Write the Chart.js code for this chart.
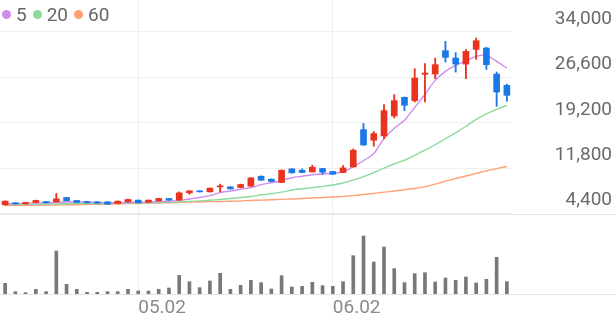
<!DOCTYPE html>
<html>
<head>
<meta charset="utf-8">
<script src="https://cdn.jsdelivr.net/npm/chart.js@4"></script>
<style>
    body { margin: 0; background: #fff; }
    #wrap { position: relative; width: 616px; height: 321px; }
    #legend { position: absolute; top: 3px; left: 2px; font: 19px Roboto, sans-serif; color: #666; display: flex; align-items: center; }
    #legend span.dot { display: inline-block; width: 9px; height: 9px; border-radius: 50%; margin: 0 5px 0 0; }
    #legend span.txt { margin-right: 6px; }
</style>
</head>
<body>
<div id="wrap">
    <canvas id="candle"></canvas>
    <div id="legend"></div>
</div>
<script>
const dates = ['04.14', '04.15', '04.16', '04.17', '04.18', '04.21', '04.22', '04.23', '04.24', '04.25',
    '04.28', '04.29', '04.30', '05.02', '05.07', '05.08', '05.09', '05.12', '05.13', '05.14',
    '05.15', '05.16', '05.19', '05.20', '05.21', '05.22', '05.23', '05.26', '05.27', '05.28',
    '05.29', '05.30', '06.02', '06.04', '06.05', '06.09', '06.10', '06.11', '06.12', '06.13',
    '06.16', '06.17', '06.18', '06.19', '06.20', '06.23', '06.24', '06.25', '06.26', '06.27'];
const shownDates = ['05.02', '06.02'];
const priceTicks = [4400, 11800, 19200, 26600, 34000];

const open = [5830, 6160, 5990, 6220, 6380, 6320, 7030, 6550, 6380, 6320,
    6320, 6060, 6320, 6600, 6270, 6480, 6870, 6600, 7780, 8110,
    7950, 8760, 8760, 8660, 8870, 10500, 10010, 9470, 11690, 11470,
    11200, 11750, 11260, 11100, 12010, 18090, 16350, 17050, 20310, 23350,
    22810, 27090, 27140, 30940, 29740, 28760, 31150, 31370, 27140, 25300];
const high = [6480, 6200, 6250, 6600, 6400, 7690, 7060, 6580, 6400, 6350,
    6350, 6480, 6760, 6630, 6630, 6920, 6900, 7950, 8150, 8150,
    8600, 9200, 8800, 9200, 10280, 10550, 10060, 11520, 11720, 11690,
    12290, 11800, 11300, 12240, 14940, 19070, 17770, 22160, 23790, 23400,
    28010, 28830, 29740, 32460, 30620, 31150, 32990, 31500, 27460, 25500];
const low = [5780, 5960, 5970, 6200, 6140, 6300, 6460, 6200, 6140, 6080,
    5900, 6040, 6300, 6140, 6250, 6450, 6580, 6580, 7570, 7920,
    7920, 7950, 8400, 8620, 8840, 9820, 9600, 9440, 11000, 11060,
    11160, 10820, 10780, 11060, 11980, 15490, 15380, 16630, 19980, 21180,
    22580, 22580, 26390, 29090, 27460, 26390, 29530, 27900, 21880, 22700];
const close = [6430, 5990, 6220, 6550, 6160, 6810, 6480, 6220, 6160, 6100,
    5940, 6430, 6710, 6160, 6600, 6870, 6600, 7780, 8110, 7950,
    8550, 8920, 8430, 9150, 10220, 9850, 9640, 11470, 11040, 11100,
    11960, 11150, 10820, 11850, 14730, 15590, 17440, 21180, 22810, 22050,
    26490, 27300, 28670, 29850, 28760, 30830, 32570, 28670, 24210, 23670];
const volume = [640, 140, 80, 280, 140, 2580, 580, 280, 100, 100,
    140, 140, 280, 180, 180, 280, 360, 1120, 740, 380,
    780, 1240, 280, 520, 820, 680, 300, 1100, 420, 460,
    700, 500, 460, 740, 2300, 3480, 1920, 2820, 1520, 680,
    1220, 1280, 720, 960, 820, 1020, 660, 880, 2200, 740];

const ma5 = [6030, 6060, 6080, 6140, 6170, 6240, 6300, 6300, 6290, 6240,
    6170, 6170, 6220, 6270, 6300, 6380, 6430, 6560, 6790, 7030,
    7330, 7820, 8090, 8380, 8630, 9120, 9440, 9800, 10250, 10500,
    10740, 10860, 10990, 11230, 12040, 13020, 14190, 16600, 18310, 19610,
    21720, 23840, 26110, 27580, 28550, 29280, 30020, 30180, 29200, 28110];
const ma20 = [5910, 5930, 5950, 5960, 5980, 5990, 6010, 6030, 6040, 6060,
    6080, 6090, 6110, 6140, 6170, 6210, 6250, 6320, 6400, 6480,
    6580, 6710, 6870, 7030, 7200, 7470, 7670, 7900, 8250, 8450,
    8630, 8840, 9070, 9390, 9850, 10420, 11070, 11800, 12530, 13100,
    13910, 14730, 15620, 16600, 17570, 18630, 19770, 20660, 21400, 22050];
const ma60 = [5730, 5750, 5770, 5780, 5800, 5810, 5850, 5860, 5900, 5910,
    5950, 5980, 6030, 6060, 6090, 6140, 6170, 6220, 6270, 6300,
    6350, 6380, 6430, 6470, 6550, 6600, 6660, 6730, 6790, 6870,
    6940, 7020, 7100, 7210, 7330, 7510, 7700, 7900, 8090, 8300,
    8500, 8790, 9200, 9690, 10120, 10530, 10950, 11360, 11730, 12080];

const maLabels = ['5', '20', '60'];
const maColors = ['#cf8cec', '#8cdb9c', '#ffa077'];
const UP = '#e8341e';
const DOWN = '#1b79e6';

const candleColors = open.map((o, i) => close[i] >= o ? UP : DOWN);

// legend (top-left)
const legend = document.getElementById('legend');
maLabels.forEach((m, i) => {
    legend.innerHTML += '<span class="dot" style="background:' + maColors[i] + '"></span><span class="txt">' + m + '</span>';
});

// full-width separator lines (4,400 line and volume baseline)
const separators = {
    id: 'separators',
    beforeDatasetsDraw(chart) {
        const ctx = chart.ctx;
        const yp = chart.scales.yPrice.getPixelForValue(priceTicks[0]);
        const yb = chart.chartArea.bottom;
        ctx.save();
        ctx.strokeStyle = '#e4e4e4';
        ctx.lineWidth = 1;
        [yp, yb].forEach(y => {
            ctx.beginPath();
            ctx.moveTo(0, Math.round(y) + 0.5);
            ctx.lineTo(chart.width, Math.round(y) + 0.5);
            ctx.stroke();
        });
        ctx.restore();
    }
};

const maLine = (data, color) => ({
    type: 'line',
    data: data,
    yAxisID: 'yPrice',
    borderColor: color,
    borderWidth: 1.4,
    pointRadius: 0,
    tension: 0.3,
    order: 2
});

new Chart(document.getElementById('candle'), {
    type: 'bar',
    data: {
        labels: dates,
        datasets: [
            {
                // body
                data: open.map((o, i) => [o, close[i]]),
                yAxisID: 'yPrice',
                backgroundColor: candleColors,
                barThickness: 6,
                grouped: false,
                minBarLength: 1,
                order: 0
            },
            {
                // wick
                data: low.map((l, i) => [l, high[i]]),
                yAxisID: 'yPrice',
                backgroundColor: candleColors,
                barThickness: 1.2,
                grouped: false,
                order: 1
            },
            maLine(ma5, maColors[0]),
            maLine(ma20, maColors[1]),
            maLine(ma60, maColors[2]),
            {
                data: volume,
                yAxisID: 'yVol',
                backgroundColor: '#787878',
                barThickness: 3,
                grouped: false,
                order: 3
            }
        ]
    },
    options: {
        responsive: true,
        maintainAspectRatio: false,
        animation: false,
        layout: { padding: { left: 0, right: 4, top: 0, bottom: 0 } },
        plugins: {
            legend: { display: false },
            tooltip: { enabled: false }
        },
        scales: {
            x: {
                offset: true,
                grid: { offset: false, color: '#efefef', drawTicks: false },
                border: { display: false },
                afterBuildTicks: (scale) => {
                    scale.ticks = dates.map((d, i) => ({ value: i })).filter(t => shownDates.includes(dates[t.value]));
                },
                afterFit: (scale) => {
                    scale.height = 27;
                    scale.paddingLeft = 0;
                    scale.paddingRight = 0;
                },
                ticks: {
                    autoSkip: false,
                    maxRotation: 0,
                    align: 'start',
                    padding: 3,
                    color: '#8a8a8a',
                    font: { family: 'Roboto', size: 19 },
                    callback: (v) => dates[v]
                }
            },
            yPrice: {
                position: 'right',
                min: -8690,
                max: 39200,
                grid: { color: '#efefef', drawTicks: false },
                border: { display: false },
                afterBuildTicks: (scale) => {
                    scale.ticks = priceTicks.map(v => ({ value: v }));
                },
                afterFit: (scale) => {
                    scale.width = 100;
                    scale.paddingTop = 0;
                    scale.paddingBottom = 0;
                },
                ticks: {
                    crossAlign: 'far',
                    labelOffset: -13,
                    color: '#6a6a6a',
                    font: { family: 'Roboto', size: 19 },
                    callback: (v) => v.toLocaleString('en-US')
                }
            },
            yVol: {
                display: false,
                min: 0,
                max: 17640
            }
        }
    },
    plugins: [separators]
});
</script>
</body>
</html>
